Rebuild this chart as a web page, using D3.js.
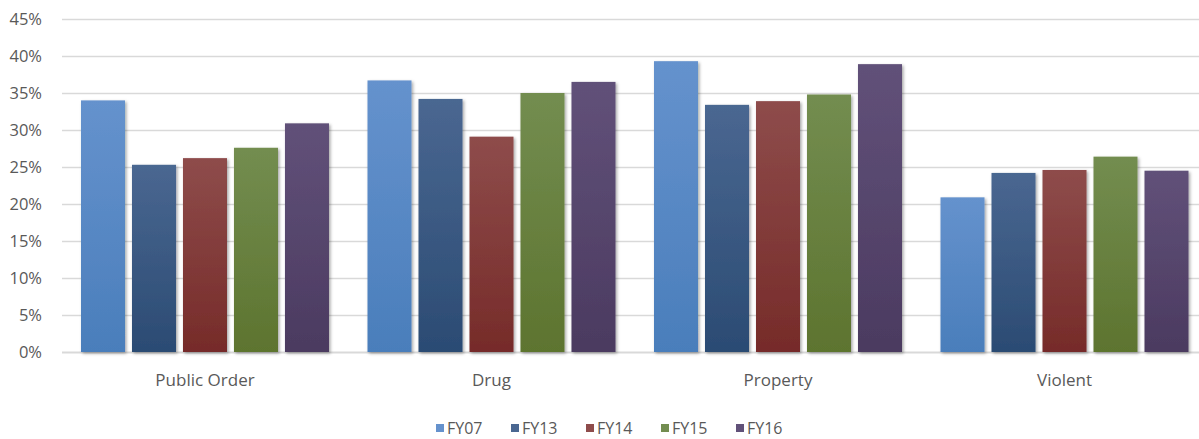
<!DOCTYPE html>
<html>
<head>
<meta charset="utf-8">
<script src="https://cdn.jsdelivr.net/npm/d3@7"></script>
<style>
  body { margin: 0; background: #fff; }
  svg { display: block; font-family: "Open Sans", "Liberation Sans", sans-serif; }
</style>
</head>
<body>
<svg id="chart" width="1199" height="439"></svg>
<script>
// chart data
const categories = ['Public Order', 'Drug', 'Property', 'Violent'];
const seriesNames = ['FY07', 'FY13', 'FY14', 'FY15', 'FY16'];
const fy07 = [34.0, 36.7, 39.3, 20.9];
const fy13 = [25.3, 34.2, 33.4, 24.2];
const fy14 = [26.2, 29.1, 33.9, 24.6];
const fy15 = [27.6, 35.0, 34.8, 26.4];
const fy16 = [30.9, 36.5, 38.9, 24.5];
const yTicks = [0, 5, 10, 15, 20, 25, 30, 35, 40, 45];

const seriesValues = [fy07, fy13, fy14, fy15, fy16];

// colors: [top, bottom] of each bar gradient
const COLORS = [
  ['#6592cd', '#4a7ebb'],
  ['#4a6791', '#2b4b73'],
  ['#8e4c4b', '#762b29'],
  ['#738d50', '#5d742f'],
  ['#615179', '#4b3a60']
];
const GRID = '#d9d9d9';
const TEXT = '#595959';

const svg = d3.select('#chart');

const margin = { left: 62, top: 19, bottom: 87 };
const width = 1199;
const height = 439;

// the plot area runs a little past the right edge of the picture
const x0 = d3.scaleBand()
  .domain(categories)
  .range([margin.left, 1207.5])
  .paddingInner(0.1344)
  .paddingOuter(0.0663);

const x1 = d3.scaleBand()
  .domain(seriesNames)
  .range([0, x0.bandwidth()])
  .paddingInner(0.137);

const y = d3.scaleLinear()
  .domain([0, 45])
  .range([height - margin.bottom, margin.top]);

// gradients + shadow
const defs = svg.append('defs');
COLORS.forEach((c, i) => {
  const g = defs.append('linearGradient')
    .attr('id', 'grad' + i)
    .attr('x1', 0).attr('y1', 0).attr('x2', 0).attr('y2', 1);
  g.append('stop').attr('offset', '0%').attr('stop-color', c[0]);
  g.append('stop').attr('offset', '100%').attr('stop-color', c[1]);
});
const filter = defs.append('filter').attr('id', 'shadow')
  .attr('x', '-20%').attr('y', '-20%').attr('width', '140%').attr('height', '140%');
filter.append('feDropShadow')
  .attr('dx', 1.5).attr('dy', 1.5).attr('stdDeviation', 1.5)
  .attr('flood-color', '#000').attr('flood-opacity', 0.35);

// gridlines
svg.append('g')
  .selectAll('line')
  .data(yTicks)
  .join('line')
  .attr('x1', margin.left)
  .attr('x2', width)
  .attr('y1', d => Math.round(y(d)) + 0.5)
  .attr('y2', d => Math.round(y(d)) + 0.5)
  .attr('stroke', GRID)
  .attr('stroke-width', d => d === 0 ? 2 : 1.3);

// y labels
svg.append('g')
  .selectAll('text')
  .data(yTicks)
  .join('text')
  .attr('x', 42)
  .attr('y', d => y(d))
  .attr('dy', '0.35em')
  .attr('text-anchor', 'end')
  .attr('fill', TEXT)
  .style('font-size', '16.5px')
  .text(d => d + '%');

// bars
const groups = svg.append('g')
  .selectAll('g')
  .data(categories)
  .join('g')
  .attr('transform', d => `translate(${x0(d)},0)`);

groups.selectAll('rect')
  .data((d, ci) => seriesNames.map((s, si) => ({ s, si, v: seriesValues[si][ci] })))
  .join('rect')
  .attr('x', d => x1(d.s))
  .attr('width', x1.bandwidth())
  .attr('y', d => y(d.v))
  .attr('height', d => y(0) - y(d.v))
  .attr('fill', d => `url(#grad${d.si})`)
  .attr('filter', 'url(#shadow)');

// category labels
svg.append('g')
  .selectAll('text')
  .data(categories)
  .join('text')
  .attr('x', d => x0(d) + x0.bandwidth() / 2)
  .attr('y', 386)
  .attr('text-anchor', 'middle')
  .attr('fill', TEXT)
  .style('font-size', '17px')
  .text(d => d);

// legend
const legend = svg.append('g')
  .selectAll('g')
  .data(seriesNames)
  .join('g')
  .attr('transform', (d, i) => `translate(${436 + i * 75},428)`);

legend.append('rect')
  .attr('x', 0).attr('y', -4)
  .attr('width', 8).attr('height', 8)
  .attr('fill', (d, i) => COLORS[i][0]);

legend.append('text')
  .attr('x', 11)
  .attr('dy', '0.35em')
  .attr('fill', TEXT)
  .style('font-size', '16px')
  .text(d => d);
</script>
</body>
</html>
